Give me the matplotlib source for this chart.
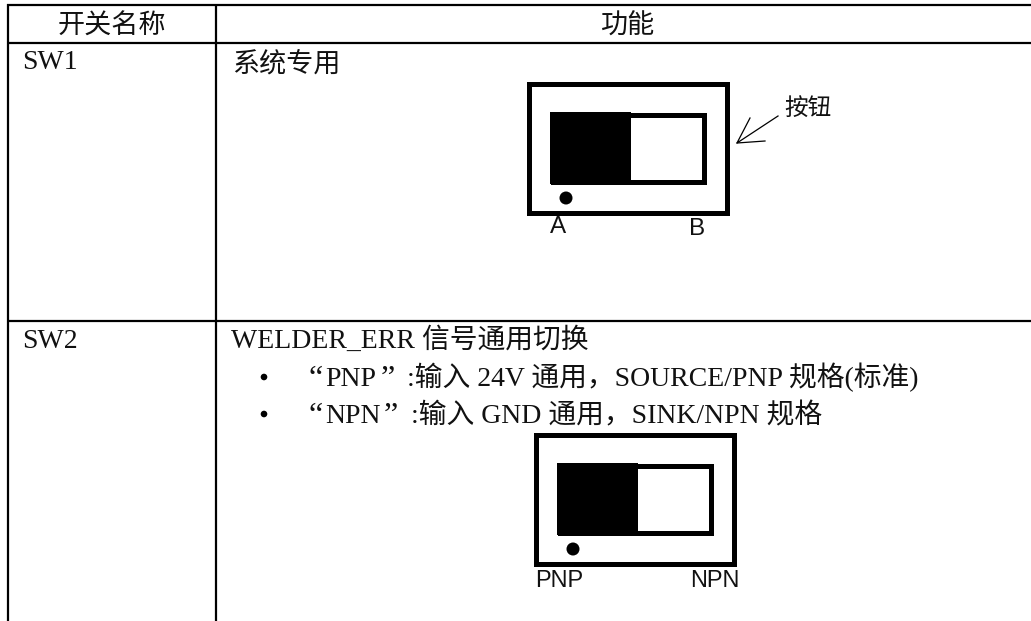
"""Switch table: SW1 / SW2 with slide switch diagrams."""

import matplotlib

matplotlib.use("Agg")

import matplotlib.pyplot as plt
from matplotlib.patches import Circle, Rectangle

WIDTH = 1031
HEIGHT = 621

HEADERS = ["开关名称", "功能"]
SWITCH_NAMES = ["SW1", "SW2"]
SW1_TEXT = "系统专用"
SW2_TITLE = "WELDER_ERR 信号通用切换"
SW2_MODES = ["PNP", "NPN"]
SW2_DETAILS = [
    ":输入 24V 通用，SOURCE/PNP 规格(标准)",
    ":输入 GND 通用，SINK/NPN 规格",
]
SW1_LABELS = ["A", "B"]
SW2_LABELS = ["PNP", "NPN"]
BUTTON_LABEL = "按钮"

SERIF = ["Liberation Serif", "Noto Sans CJK SC"]
SANS = ["Liberation Sans", "Noto Sans CJK SC"]
CJK = ["Noto Sans CJK SC", "Liberation Sans"]
TEXT_COLOR = "#111111"


def draw_table(ax):
    # vertical rules stop at the bottom of the page, no closing line
    for x in [7.5, 216]:
        ax.plot([x, x], [4, HEIGHT], color="black", lw=1.6, solid_capstyle="butt")
    for y in [5, 43, 321]:
        ax.plot([6.5, 1031], [y, y], color="black", lw=1.6, solid_capstyle="butt")


def draw_switch(ax, x, y):
    # x, y = top-left corner of the outer frame
    ax.add_patch(Rectangle((x + 2.5, y + 2.5), 198, 129, fc="white", ec="black", lw=3.6))
    ax.add_patch(Rectangle((x + 26.5, y + 33.5), 151, 67, fc="white", ec="black", lw=3.6))
    ax.add_patch(Rectangle((x + 24, y + 31), 81, 72, fc="black", ec="none"))
    ax.add_patch(Circle((x + 40, y + 117), 6.5, fc="black", ec="none"))


def draw_mode_line(ax, y, mode, detail, close_x, detail_x):
    # quotes are wider in the original, so each piece gets its own position
    ax.text(308, y + 1, "“", family=SERIF, fontsize=23, color=TEXT_COLOR)
    ax.text(325, y, mode, family=SERIF, fontsize=20, color=TEXT_COLOR)
    ax.text(close_x, y + 1, "”", family=SERIF, fontsize=23, color=TEXT_COLOR)
    ax.text(detail_x, y, detail, family=SERIF, fontsize=20, color=TEXT_COLOR)


def main():
    fig = plt.figure(figsize=(WIDTH / 100, HEIGHT / 100), dpi=100)
    ax = fig.add_axes([0, 0, 1, 1])
    ax.set_xlim(0, WIDTH)
    ax.set_ylim(HEIGHT, 0)
    ax.axis("off")

    draw_table(ax)

    ax.text(112, 26, HEADERS[0], family=CJK, fontsize=19.5, ha="center", va="center", color=TEXT_COLOR)
    ax.text(628, 26, HEADERS[1], family=CJK, fontsize=19.5, ha="center", va="center", color=TEXT_COLOR)

    ax.text(22, 69, SWITCH_NAMES[0], family=SERIF, fontsize=20, color=TEXT_COLOR)
    ax.text(232, 71.5, SW1_TEXT, family=CJK, fontsize=19.5, color=TEXT_COLOR)
    ax.text(22, 348, SWITCH_NAMES[1], family=SERIF, fontsize=20, color=TEXT_COLOR)
    ax.text(231, 348, SW2_TITLE, family=SERIF, fontsize=20, color=TEXT_COLOR)
    draw_mode_line(ax, 386, SW2_MODES[0], SW2_DETAILS[0], 381, 407)
    draw_mode_line(ax, 423, SW2_MODES[1], SW2_DETAILS[1], 384, 411)
    for y in [377, 414]:
        ax.add_patch(Circle((264, y), 3.3, fc="black", ec="none"))

    draw_switch(ax, 526, 81)
    draw_switch(ax, 533, 432)

    ax.text(558, 233, SW1_LABELS[0], family=SANS, fontsize=17.5, ha="center", color=TEXT_COLOR)
    ax.text(697, 235, SW1_LABELS[1], family=SANS, fontsize=17.5, ha="center", color=TEXT_COLOR)
    ax.text(559.5, 587, SW2_LABELS[0], family=SANS, fontsize=17, ha="center", color=TEXT_COLOR)
    ax.text(714.5, 587, SW2_LABELS[1], family=SANS, fontsize=17, ha="center", color=TEXT_COLOR)

    ax.text(808, 108, BUTTON_LABEL, family=CJK, fontsize=17, ha="center", va="center", color=TEXT_COLOR)
    ax.plot([778, 737, 750], [116, 143, 118], color="black", lw=0.9)
    ax.plot([737, 765], [143, 141], color="black", lw=0.9)

    fig.savefig("out.png", dpi=100)
    plt.close(fig)


if __name__ == "__main__":
    main()
